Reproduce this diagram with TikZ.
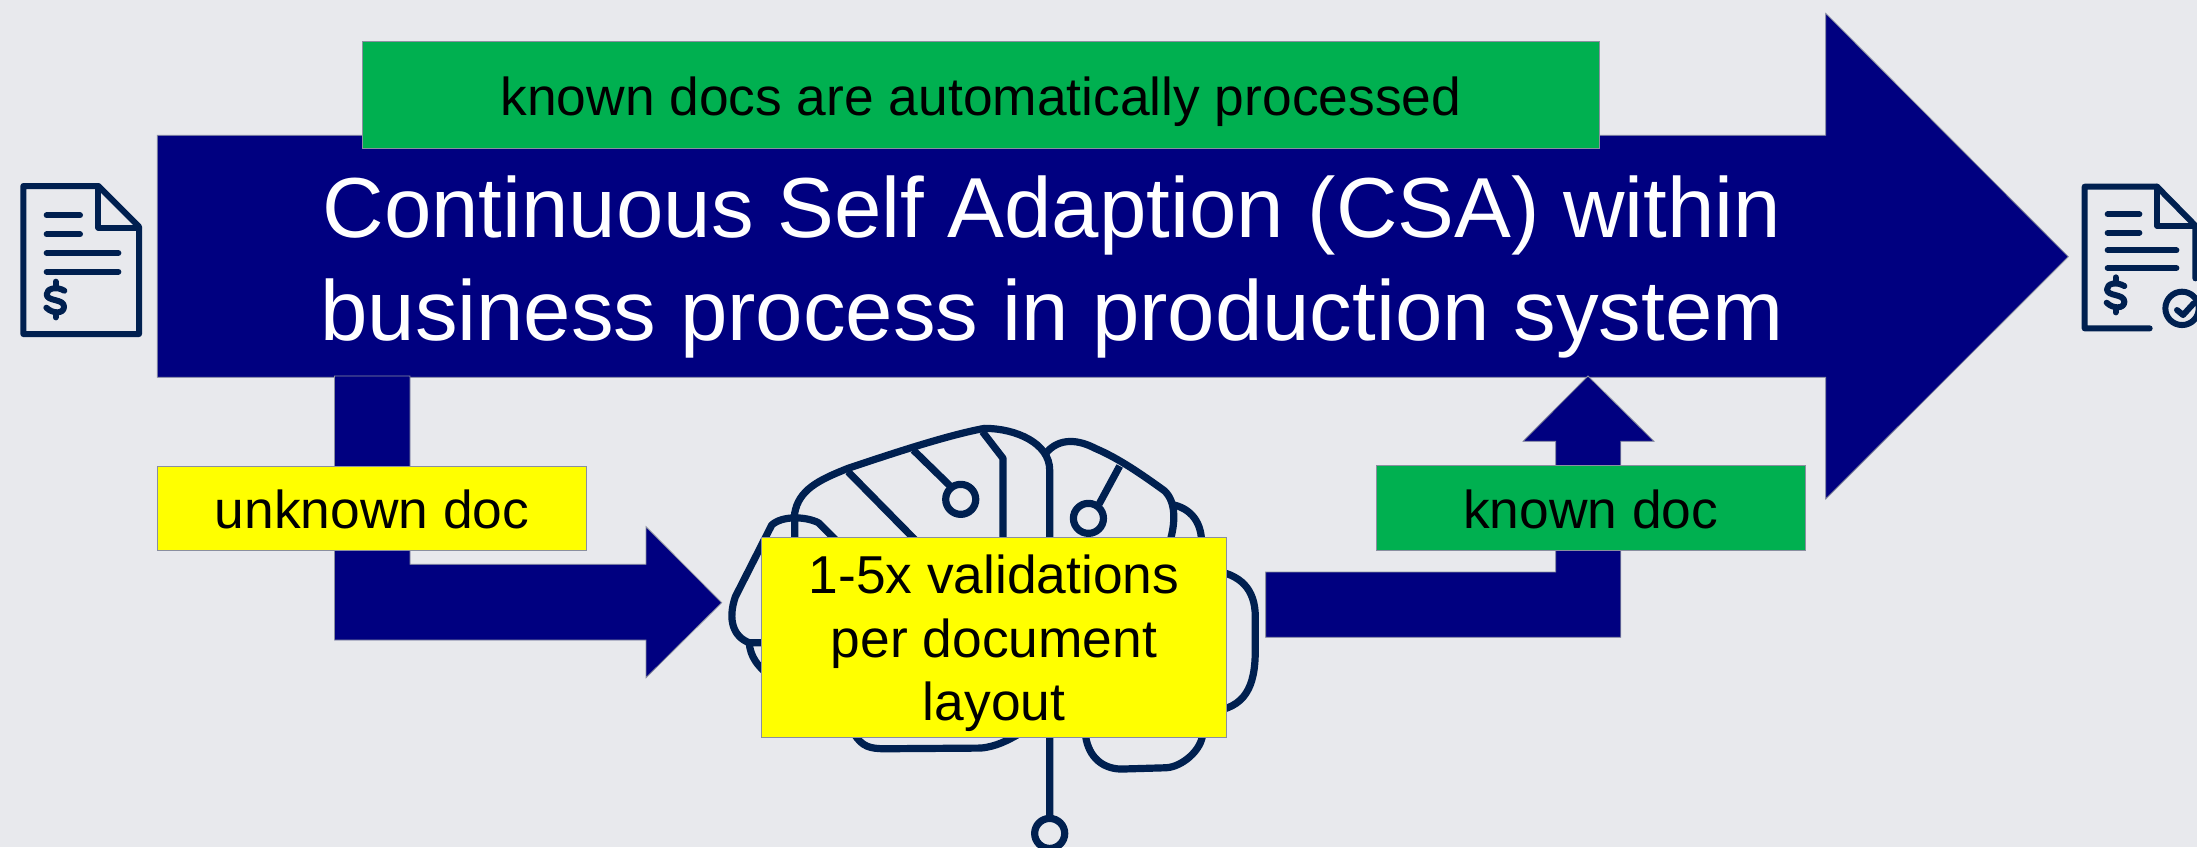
\documentclass[tikz,border=0pt]{standalone}
\usepackage{fontspec}
\setmainfont{Liberation Sans}
\definecolor{bgc}{HTML}{E8E9ED}
\definecolor{navyc}{HTML}{000080}
\definecolor{greenc}{HTML}{00B050}
\definecolor{yellowc}{HTML}{FFFF00}
\definecolor{iconc}{HTML}{002050}
\definecolor{edgec}{HTML}{8A8FA0}
\tikzset{
  bigarrow/.style={fill=navyc,draw=edgec,line width=0.4pt},
  label box/.style={draw=edgec,line width=0.5pt,inner sep=0pt,align=center,text=black},
  one line/.style={text height=25pt,text depth=5pt,font=\fontsize{26.67}{30}\selectfont},
  icon/.style={draw=iconc,line width=3pt,line cap=round,line join=round},
  brain/.style={draw=iconc,line width=3.6pt,line join=round},
}
\begin{document}
\begin{tikzpicture}[x=0.5pt,y=-0.5pt]
\useasboundingbox (0,0) rectangle (2197,847);
\clip (0,0) rectangle (2197,847);
\fill[bgc] (0,0) rectangle (2197,847);
% brain
\begin{scope}[shift={(680,400)},x=0.1977pt,y=-0.1667pt]
\draw[brain] (290,500) -- (290,340) .. controls (300,270) and (350,240) .. (425,205) .. controls (550,155) and (680,105) .. (770,85) .. controls (850,85) and (935,130) .. (935,210) -- (935,1250);
\draw[brain] (935,1300) circle [x radius=38,y radius=45];
\draw[brain] (765,95) -- (817,175) -- (817,500);
\draw[brain] (590,150) -- (685,260);
\draw[brain] (710,298) circle [x radius=38,y radius=45];
\draw[brain] (425,215) -- (620,450);
\draw[brain] (420,450) -- (350,368) .. controls (320,350) and (260,345) .. (232,375) -- (140,590) .. controls (120,660) and (135,710) .. (175,728) -- (300,728);
\draw[brain] (175,728) .. controls (178,770) and (195,800) .. (240,840);
\draw[brain] (440,1000) .. controls (460,1040) and (480,1046) .. (520,1046) -- (760,1044) .. controls (800,1040) and (830,1020) .. (860,1000);
\draw[brain] (925,160) .. controls (960,110) and (1010,120) .. (1050,145) .. controls (1110,175) and (1170,225) .. (1225,272) .. controls (1255,305) and (1255,370) .. (1235,440);
\draw[brain] (1112,198) -- (1060,312);
\draw[brain] (1033,355) circle [x radius=38,y radius=45];
\draw[brain] (1250,315) .. controls (1300,330) and (1325,380) .. (1318,450);
\draw[brain] (1340,510) .. controls (1420,520) and (1455,570) .. (1455,650) -- (1455,750) .. controls (1455,860) and (1430,925) .. (1340,935);
\draw[brain] (1025,1000) .. controls (1030,1060) and (1060,1105) .. (1115,1107) -- (1230,1103) .. controls (1270,1100) and (1320,1050) .. (1322,1000);
\end{scope}
% arrows
\draw[bigarrow] (157.3,135.3) -- (1825.7,135.3) -- (1825.7,13.3) -- (2068.3,256.7) -- (1825.7,499) -- (1825.7,377.3) -- (157.3,377.3) -- cycle;
\draw[bigarrow] (334.4,376) -- (410,376) -- (410,564.3) -- (646,564.3) -- (646,526.7) -- (721.7,602.7) -- (646,677.7) -- (646,640) -- (334.4,640) -- cycle;
\draw[bigarrow] (1265.6,572) -- (1555.7,572) -- (1555.7,441.3) -- (1523,441.3) -- (1588,376) -- (1654,441.3) -- (1620.8,441.3) -- (1620.8,637.3) -- (1265.6,637.3) -- cycle;
% boxes
\node[label box,one line,fill=greenc,minimum width=618.7pt,minimum height=53.5pt] (known docs) at (980.85,95) {known docs are automatically processed};
\node[label box,one line,fill=yellowc,minimum width=214.4pt,minimum height=42pt] (unknown) at (372,508.2) {unknown doc};
\node[label box,one line,fill=greenc,minimum width=214.4pt,minimum height=42.2pt] (known) at (1590.75,508) {known doc};
\node[label box,fill=yellowc,minimum width=232.5pt,minimum height=100pt,font=\fontsize{26.67}{31.8}\selectfont] (valid) at (994,637.5) {\rule{0pt}{25.4pt}1-5x validations\\per document\\layout};
\node[text=white,align=center,inner sep=0pt,font=\fontsize{42.6}{51.3}\selectfont] (title) at (1052,267) {Continuous Self Adaption (CSA) within\\business process in production system};
% left icon
\begin{scope}[shift={(0,160)},x=0.1667pt,y=-0.1667pt]
\draw[icon] (70,78) -- (295,78) -- (417,200) -- (417,522) -- (70,522) -- cycle;
\draw[icon] (295,78) -- (295,203) -- (417,203);
\draw[icon] (140,166) -- (240,166);
\draw[icon] (140,223) -- (240,223);
\draw[icon] (140,279) -- (355,279);
\draw[icon] (140,335) -- (355,335);
\draw[icon] (193,392) .. controls (170,378) and (140,385) .. (140,403) .. controls (140,425) and (192,415) .. (192,440) .. controls (192,462) and (158,462) .. (139,443);
\draw[icon] (167,365) -- (167,378);
\draw[icon] (167,458) -- (167,472);
\end{scope}
% right icon
\begin{scope}[shift={(2047,160)},x=0.1667pt,y=-0.1667pt]
\draw[icon] (445,355) -- (445,197) -- (330,80) -- (113,80) -- (113,505) -- (308,505);
\draw[icon] (330,80) -- (330,197) -- (445,197);
\draw[icon] (182,163) -- (277,163);
\draw[icon] (182,218) -- (277,218);
\draw[icon] (182,271) -- (388,271);
\draw[icon] (182,324) -- (388,324);
\draw[icon] (232,378) .. controls (208,364) and (180,370) .. (180,388) .. controls (180,410) and (232,400) .. (232,425) .. controls (232,447) and (198,447) .. (179,428);
\draw[icon] (206,352) -- (206,365);
\draw[icon] (206,443) -- (206,457);
\draw[icon] (405,445) circle (50);
\draw[icon] (390,450) -- (408,465) -- (440,430);
\end{scope}
\end{tikzpicture}
\end{document}
